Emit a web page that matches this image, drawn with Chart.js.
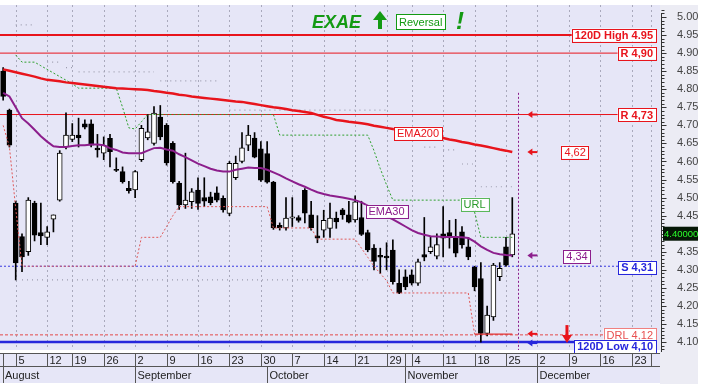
<!DOCTYPE html>
<html>
<head>
<meta charset="utf-8">
<script src="https://cdn.jsdelivr.net/npm/chart.js@4.4.0/dist/chart.umd.min.js"></script>
<style>
  body { margin: 0; background: #fff; }
</style>
</head>
<body>
<canvas id="chart" width="708" height="386"></canvas>
<script>
// trading days 2019 (Aug 1 .. Dec 31)
const days = [
  '08-01', '08-02', '08-05', '08-06', '08-07', '08-08', '08-09', '08-12', '08-13', '08-14', '08-16',
  '08-19', '08-20', '08-21', '08-22', '08-23', '08-26', '08-27', '08-28', '08-29', '08-30',
  '09-02', '09-03', '09-04', '09-05', '09-06', '09-09', '09-10', '09-11', '09-12', '09-13',
  '09-16', '09-17', '09-18', '09-19', '09-20', '09-23', '09-24', '09-25', '09-26', '09-27', '09-30',
  '10-01', '10-02', '10-03', '10-04', '10-07', '10-08', '10-09', '10-10', '10-11',
  '10-14', '10-15', '10-16', '10-17', '10-18', '10-21', '10-22', '10-23', '10-24', '10-25',
  '10-29', '10-30', '10-31',
  '11-01', '11-04', '11-05', '11-06', '11-07', '11-08', '11-11', '11-12', '11-13', '11-14', '11-15',
  '11-18', '11-19', '11-20', '11-21', '11-22', '11-25', '11-26', '11-27', '11-28', '11-29',
  '12-02', '12-03', '12-04', '12-05', '12-06', '12-09', '12-10', '12-11', '12-12', '12-13',
  '12-16', '12-17', '12-18', '12-19', '12-20', '12-23', '12-24', '12-27', '12-30', '12-31'
];
const monthNames = ['January', 'February', 'March', 'April', 'May', 'June', 'July',
  'August', 'September', 'October', 'November', 'December'];

const openP = [
  4.85, 4.742, 4.485, 4.392, 4.35, 4.485, 4.403, 4.39, 4.44, 4.493,
  4.641, 4.661, 4.673, 4.704, 4.704, 4.637, 4.623, 4.664, 4.578, 4.572,
  4.526, 4.521, 4.605, 4.665, 4.65, 4.723, 4.70, 4.65, 4.54, 4.48,
  4.489, 4.521, 4.50, 4.502, 4.513, 4.498, 4.456, 4.555, 4.60, 4.645,
  4.665, 4.635, 4.622, 4.543, 4.423, 4.416, 4.443, 4.445, 4.52, 4.452,
  4.394, 4.41, 4.415, 4.443, 4.466, 4.452, 4.438, 4.445, 4.403, 4.36,
  4.34, 4.338, 4.355, 4.263, 4.281, 4.286, 4.263, 4.342, 4.35, 4.338,
  4.40, 4.403, 4.392, 4.405, 4.364, 4.307, 4.276, 4.124, 4.17, 4.281,
  4.364, 4.341
];
const highP = [
  4.86, 4.745, 4.49, 4.40, 4.50, 4.49, 4.485, 4.42, 4.452, 4.63,
  4.735, 4.705, 4.72, 4.715, 4.715, 4.675, 4.668, 4.675, 4.61, 4.585,
  4.545, 4.575, 4.70, 4.73, 4.752, 4.755, 4.705, 4.655, 4.545, 4.623,
  4.525, 4.555, 4.555, 4.515, 4.53, 4.505, 4.60, 4.615, 4.68, 4.70,
  4.68, 4.655, 4.655, 4.545, 4.43, 4.50, 4.50, 4.45, 4.525, 4.49,
  4.45, 4.465, 4.485, 4.46, 4.47, 4.49, 4.505, 4.49, 4.41, 4.37,
  4.36, 4.375, 4.383, 4.30, 4.30, 4.30, 4.33, 4.445, 4.39, 4.40,
  4.475, 4.437, 4.44, 4.42, 4.39, 4.31, 4.32, 4.20, 4.318, 4.32,
  4.39, 4.50
];
const lowP = [
  4.77, 4.64, 4.272, 4.295, 4.34, 4.38, 4.37, 4.37, 4.405, 4.49,
  4.635, 4.655, 4.64, 4.69, 4.64, 4.612, 4.605, 4.585, 4.572, 4.54,
  4.512, 4.50, 4.60, 4.66, 4.645, 4.66, 4.59, 4.54, 4.467, 4.47,
  4.47, 4.467, 4.475, 4.48, 4.488, 4.46, 4.45, 4.55, 4.596, 4.63,
  4.61, 4.545, 4.54, 4.412, 4.41, 4.41, 4.42, 4.432, 4.43, 4.41,
  4.375, 4.39, 4.39, 4.415, 4.44, 4.43, 4.432, 4.395, 4.35, 4.30,
  4.29, 4.30, 4.26, 4.234, 4.245, 4.258, 4.257, 4.325, 4.345, 4.33,
  4.336, 4.36, 4.336, 4.36, 4.328, 4.242, 4.10, 4.117, 4.16, 4.27,
  4.31, 4.336
];
const closeP = [
  4.78, 4.645, 4.319, 4.336, 4.493, 4.396, 4.394, 4.405, 4.452, 4.623,
  4.673, 4.673, 4.665, 4.695, 4.645, 4.632, 4.645, 4.627, 4.575, 4.544,
  4.519, 4.572, 4.692, 4.682, 4.734, 4.668, 4.596, 4.544, 4.48, 4.493,
  4.516, 4.484, 4.49, 4.486, 4.493, 4.466, 4.595, 4.595, 4.638, 4.673,
  4.612, 4.548, 4.543, 4.416, 4.416, 4.443, 4.447, 4.437, 4.457, 4.416,
  4.388, 4.437, 4.443, 4.433, 4.452, 4.432, 4.488, 4.398, 4.355, 4.323,
  4.335, 4.333, 4.267, 4.236, 4.253, 4.263, 4.322, 4.335, 4.364, 4.37,
  4.388, 4.392, 4.346, 4.369, 4.336, 4.253, 4.124, 4.175, 4.313, 4.304,
  4.313, 4.40
];

const ema200 = [
  4.855, 4.851, 4.847, 4.843, 4.839, 4.835, 4.83, 4.826, 4.824, 4.822,
  4.819, 4.817, 4.815, 4.813, 4.811, 4.809, 4.807, 4.805, 4.803, 4.802,
  4.801, 4.8, 4.799, 4.798, 4.795, 4.793, 4.79, 4.788, 4.785, 4.783,
  4.78, 4.778, 4.776, 4.774, 4.772, 4.77, 4.768, 4.766, 4.765, 4.762,
  4.759, 4.756, 4.753, 4.75, 4.748, 4.745, 4.742, 4.74, 4.737, 4.734,
  4.729, 4.724, 4.72, 4.715, 4.713, 4.71, 4.708, 4.706, 4.703, 4.699,
  4.696, 4.693, 4.69, 4.687, 4.684, 4.681, 4.678, 4.675, 4.671, 4.668,
  4.665, 4.661, 4.658, 4.654, 4.651, 4.647, 4.644, 4.641, 4.637, 4.633,
  4.63, 4.626
];
const ema30 = [
  4.79, 4.78, 4.75, 4.72, 4.705, 4.688, 4.67, 4.655, 4.642, 4.64,
  4.64, 4.643, 4.645, 4.645, 4.647, 4.647, 4.645, 4.637, 4.632, 4.625,
  4.623, 4.623, 4.623, 4.63, 4.637, 4.638, 4.633, 4.63, 4.62, 4.612,
  4.603, 4.594, 4.587, 4.58, 4.575, 4.572, 4.572, 4.577, 4.58, 4.583,
  4.582, 4.582, 4.577, 4.57, 4.562, 4.553, 4.545, 4.537, 4.53, 4.522,
  4.515, 4.51, 4.506, 4.503, 4.5, 4.497, 4.493, 4.487, 4.478, 4.468,
  4.458, 4.448, 4.44, 4.43, 4.42, 4.41, 4.402, 4.397, 4.393, 4.392,
  4.391, 4.391, 4.391, 4.39, 4.388, 4.378, 4.365, 4.355, 4.347, 4.343,
  4.341, 4.34
];
// upper reversal line (URL)
const urlLine = [
  null, null, 4.895, 4.875, 4.875, 4.875, 4.865, 4.855, 4.845, 4.835,
  4.825, 4.815, 4.803, 4.803, 4.803, 4.803, 4.803, 4.803, 4.803, 4.75,
  4.693, 4.69, 4.71, 4.73, 4.73, 4.73, 4.73, 4.73, 4.73, 4.73,
  4.73, 4.73, 4.73, 4.73, 4.73, 4.73, 4.73, 4.73, 4.73, 4.73,
  4.73, 4.73, 4.73, 4.73, 4.673, 4.673, 4.673, 4.673, 4.673, 4.673,
  4.673, 4.673, 4.673, 4.673, 4.673, 4.673, 4.673, 4.673, 4.673, 4.63,
  4.58, 4.535, 4.493, 4.493, 4.493, 4.493, 4.493, 4.493, 4.493, 4.493,
  4.493, 4.493, 4.493, 4.493, 4.493, 4.46, 4.39, 4.39, 4.39, 4.39,
  4.39, 4.39
];
// lower reversal line
const lowerRev = [
  4.70, 4.64, 4.47, 4.31, 4.31, 4.31, 4.31, 4.31, 4.31, 4.31,
  4.31, 4.31, 4.31, 4.31, 4.31, 4.31, 4.31, 4.31, 4.31, 4.31,
  4.31, 4.31, 4.39, 4.39, 4.39, 4.39, 4.42, 4.45, 4.475, 4.475,
  4.475, 4.475, 4.475, 4.475, 4.475, 4.475, 4.475, 4.475, 4.475, 4.475,
  4.475, 4.475, 4.475, 4.416, 4.416, 4.416, 4.416, 4.416, 4.416, 4.416,
  4.385, 4.385, 4.385, 4.385, 4.385, 4.385, 4.385, 4.36, 4.335, 4.31,
  4.29, 4.27, 4.236, 4.236, 4.236, 4.236, 4.236, 4.236, 4.236, 4.236,
  4.236, 4.236, 4.236, 4.236, 4.236, 4.122
];
const lowerRevNow = [
  null, null, null, null, null, null, null, null, null, null,
  null, null, null, null, null, null, null, null, null, null,
  null, null, null, null, null, null, null, null, null, null,
  null, null, null, null, null, null, null, null, null, null,
  null, null, null, null, null, null, null, null, null, null,
  null, null, null, null, null, null, null, null, null, null,
  null, null, null, null, null, null, null, null, null, null,
  null, null, null, null, null, 4.122, 4.122, 4.122, 4.122, 4.122,
  4.122, 4.122
];
const upperDots = [
  null, null, 4.978, 4.978, 4.978, 4.978, 4.928, 4.875, 4.875, 4.875,
  4.86, 4.86, 4.848, 4.848, 4.848, 4.848, 4.848, 4.848, 4.848, 4.848,
  4.848, 4.848, 4.848, 4.848, 4.848, 4.823, 4.823, 4.823, 4.823, 4.823,
  4.823, 4.823, 4.823, 4.823, 4.823, null, 4.742, 4.742, 4.742, 4.742,
  4.742, 4.742, 4.742, 4.742, 4.742, 4.742, 4.742, 4.742, 4.742, 4.742,
  4.742, 4.742, 4.742, 4.742, 4.742, 4.742, 4.742, 4.742, 4.742, 4.742,
  4.742, 4.742, null, null, null, null, null, 4.64, 4.64, 4.64,
  4.632, 4.632, 4.632, 4.593, 4.593, 4.593, 4.53, 4.53, 4.53, 4.53,
  4.53, 4.53
];
const lowerDots = [
  null, null, null, 4.272, 4.272, 4.272, 4.272, 4.272, 4.272, 4.272,
  4.272, 4.272, 4.272, 4.272, 4.272, 4.272, 4.272, 4.272, 4.272, 4.272,
  4.272, 4.272, 4.272, 4.272, 4.272, 4.272, 4.272, 4.272, 4.272, 4.272,
  4.272, 4.272, 4.272, 4.272, 4.272, 4.272, 4.272, 4.272, 4.272, 4.272,
  4.272, 4.272, 4.272, 4.272, 4.272, 4.272, 4.272, 4.272, 4.272, 4.272,
  4.272, 4.272, 4.272, 4.272, 4.272, 4.272, 4.272, 4.272, 4.272
];

const levelValues = [4.95, 4.90, 4.73, 4.31, 4.12, 4.10];
const levelLabels = ['120D High 4.95', 'R 4,90', 'R 4,73', 'S 4,31', 'DRL 4,12', '120D Low 4,10'];
const endLabels = ['4,62', '4,34'];
const yTicks = [4.10, 4.15, 4.20, 4.25, 4.30, 4.35, 4.40, 4.45, 4.50, 4.55,
  4.60, 4.65, 4.70, 4.75, 4.80, 4.85, 4.90, 4.95, 5.00];
const lastPrice = 4.40;

const RED = '#e8141c';
const BLUE = '#2626dc';
const PURPLE = '#8c1e8c';
const GREEN = '#139a13';
const FONT = '"Liberation Sans", Arial, sans-serif';

const levelStyles = [
  { line: RED, width: 2, dash: [], text: RED, border: RED, bold: true, dy: 0 },
  { line: RED, width: 1, dash: [], text: RED, border: RED, bold: true, dy: 0 },
  { line: RED, width: 1, dash: [], text: RED, border: RED, bold: true, dy: 0 },
  { line: '#3b3be0', width: 1, dash: [2, 2], text: BLUE, border: BLUE, bold: true, dy: 1 },
  { line: '#e34a4a', width: 1, dash: [3, 2], text: '#e85050', border: '#f08080', bold: false, dy: 0 },
  { line: BLUE, width: 2.5, dash: [], text: BLUE, border: BLUE, bold: true, dy: 4 }
];

const dates = days.map(d => new Date(2019, Number(d.slice(0, 2)) - 1, Number(d.slice(3))));
const weekStart = dates.map((d, i) => i > 0 && d.getDay() < dates[i - 1].getDay());
const monthStart = dates.map((d, i) => i > 0 && d.getMonth() !== dates[i - 1].getMonth());

function drawTag(ctx, text, x, yc, st, alignRight) {
  ctx.font = (st.bold ? 'bold ' : '') + '11px ' + FONT;
  const w = ctx.measureText(text).width + 6;
  const h = 13;
  const left = alignRight ? x - w : x - w / 2;
  ctx.fillStyle = '#ffffff';
  ctx.fillRect(left, yc - h / 2, w, h);
  ctx.strokeStyle = st.border;
  ctx.lineWidth = 1;
  ctx.setLineDash([]);
  ctx.strokeRect(Math.round(left) + 0.5, Math.round(yc - h / 2) + 0.5, Math.round(w), h);
  ctx.fillStyle = st.text;
  ctx.textAlign = 'left';
  ctx.textBaseline = 'middle';
  ctx.fillText(text, left + 3, yc + 1);
}

function leftArrow(ctx, x, y, color) {
  ctx.strokeStyle = color;
  ctx.fillStyle = color;
  ctx.lineWidth = 2;
  ctx.setLineDash([]);
  ctx.beginPath();
  ctx.moveTo(x + 3, y);
  ctx.lineTo(x + 10, y);
  ctx.stroke();
  ctx.beginPath();
  ctx.moveTo(x, y);
  ctx.lineTo(x + 5, y - 3.5);
  ctx.lineTo(x + 5, y + 3.5);
  ctx.closePath();
  ctx.fill();
}

const decor = {
  id: 'decor',
  beforeDraw(chart) {
    const { ctx, chartArea: a, scales: { x, y } } = chart;
    ctx.save();
    ctx.fillStyle = '#ffffff';
    ctx.fillRect(0, 0, chart.width, chart.height);
    ctx.fillStyle = '#ececf4';
    ctx.fillRect(a.right, a.top, 38, chart.height - a.top - 2);
    ctx.fillStyle = '#e6e6f7';
    ctx.fillRect(a.left, a.top, a.right - a.left, a.bottom - a.top);

    // weekly dotted grid
    ctx.strokeStyle = '#a9a9bc';
    ctx.lineWidth = 1;
    ctx.setLineDash([2, 3]);
    weekStart.forEach((ws, i) => {
      if (!ws) return;
      const px = Math.round(x.getPixelForValue(i)) + 0.5;
      ctx.beginPath();
      ctx.moveTo(px, a.top);
      ctx.lineTo(px, a.bottom);
      ctx.stroke();
    });

    // level lines
    levelValues.forEach((v, k) => {
      const st = levelStyles[k];
      const py = y.getPixelForValue(v);
      ctx.strokeStyle = st.line;
      ctx.lineWidth = st.width;
      ctx.setLineDash(st.dash);
      ctx.beginPath();
      ctx.moveTo(a.left, py);
      ctx.lineTo(a.right - 4, py);
      ctx.stroke();
    });

    // title
    ctx.setLineDash([]);
    ctx.fillStyle = GREEN;
    ctx.font = 'italic bold 18px ' + FONT;
    ctx.textAlign = 'left';
    ctx.textBaseline = 'alphabetic';
    ctx.fillText('EXAE', 312, 28);
    ctx.beginPath();
    ctx.moveTo(380, 11);
    ctx.lineTo(387, 20);
    ctx.lineTo(373, 20);
    ctx.closePath();
    ctx.fill();
    ctx.fillRect(378, 19, 4, 10);
    ctx.font = '11px ' + FONT;
    const rw = Math.ceil(ctx.measureText('Reversal').width) + 5;
    ctx.fillStyle = '#ffffff';
    ctx.fillRect(396, 14, rw, 15);
    ctx.strokeStyle = GREEN;
    ctx.lineWidth = 1;
    ctx.strokeRect(396.5, 14.5, rw, 15);
    ctx.fillStyle = GREEN;
    ctx.fillText('Reversal', 399, 26);
    ctx.font = 'italic bold 24px ' + FONT;
    ctx.fillText('!', 456, 29);
    ctx.restore();
  },
  afterDatasetsDraw(chart) {
    const { ctx, chartArea: a, scales: { x, y } } = chart;
    const n = openP.length;
    ctx.save();

    // vertical marker after last bar
    const vx = Math.round(x.getPixelForValue(n - 0.1)) + 0.5;
    ctx.strokeStyle = PURPLE;
    ctx.lineWidth = 1;
    ctx.setLineDash([2, 2]);
    ctx.beginPath();
    ctx.moveTo(vx, y.getPixelForValue(4.79));
    ctx.lineTo(vx, a.bottom);
    ctx.stroke();

    // level tags
    levelValues.forEach((v, k) => {
      drawTag(ctx, levelLabels[k], a.right - 4, y.getPixelForValue(v) + levelStyles[k].dy, levelStyles[k], true);
    });

    // line tags
    drawTag(ctx, 'EMA200', x.getPixelForValue(66), y.getPixelForValue(ema200[66]), { text: RED, border: RED }, false);
    drawTag(ctx, 'EMA30', x.getPixelForValue(61), y.getPixelForValue(ema30[61]) - 5, { text: PURPLE, border: PURPLE }, false);
    drawTag(ctx, 'URL', x.getPixelForValue(75), y.getPixelForValue(urlLine[74]) + 4, { text: '#2a9a2a', border: '#5ab85a' }, false);
    drawTag(ctx, endLabels[0], x.getPixelForValue(91), y.getPixelForValue(ema200[n - 1]), { text: RED, border: RED }, false);
    drawTag(ctx, endLabels[1], x.getPixelForValue(91.3), y.getPixelForValue(ema30[n - 1]) + 1, { text: PURPLE, border: PURPLE }, false);

    // arrows
    const ax = x.getPixelForValue(83.4);
    leftArrow(ctx, ax, y.getPixelForValue(levelValues[2]), RED);
    leftArrow(ctx, ax, y.getPixelForValue(ema200[n - 1]), RED);
    leftArrow(ctx, ax, y.getPixelForValue(ema30[n - 1]), PURPLE);
    leftArrow(ctx, ax, y.getPixelForValue(levelValues[4]) - 1, RED);
    leftArrow(ctx, ax, y.getPixelForValue(levelValues[5]) + 1, BLUE);

    // red down arrow
    const dx = x.getPixelForValue(89.7);
    const tip = y.getPixelForValue(levelValues[5]) + 1;
    ctx.fillStyle = RED;
    ctx.fillRect(dx - 1.5, tip - 18, 3, 11);
    ctx.beginPath();
    ctx.moveTo(dx - 5, tip - 8);
    ctx.lineTo(dx + 5, tip - 8);
    ctx.lineTo(dx, tip);
    ctx.closePath();
    ctx.fill();

    // price ruler
    const rx = a.right + 1.5;
    ctx.strokeStyle = '#333';
    ctx.lineWidth = 1;
    ctx.setLineDash([]);
    ctx.beginPath();
    ctx.moveTo(rx, a.top + 8);
    ctx.lineTo(rx, a.bottom + 2);
    for (let k = 408; k <= 502; k++) {
      const py = Math.round(y.getPixelForValue(k / 100)) + 0.5;
      const len = k % 5 === 0 ? 5 : 3;
      ctx.moveTo(rx, py);
      ctx.lineTo(rx + len, py);
    }
    ctx.stroke();

    // last price box
    const py = y.getPixelForValue(lastPrice);
    ctx.fillStyle = '#061806';
    ctx.fillRect(a.right + 3, py - 7, 35, 14);
    ctx.fillStyle = '#2bff2b';
    ctx.font = '9.5px ' + FONT;
    ctx.textAlign = 'left';
    ctx.textBaseline = 'middle';
    ctx.fillText(lastPrice.toFixed(5), a.right + 4, py + 1);

    // date strip
    const top = a.bottom + 3;
    const mid = top + 13;
    const bot = top + 30;
    ctx.fillStyle = '#e6e6f7';
    ctx.fillRect(a.left, top, a.right - a.left, bot - top);
    ctx.strokeStyle = '#555';
    ctx.beginPath();
    ctx.moveTo(a.left, top + 0.5);
    ctx.lineTo(a.right, top + 0.5);
    ctx.moveTo(a.left, mid + 0.5);
    ctx.lineTo(a.right, mid + 0.5);
    ctx.moveTo(3.5, top);
    ctx.lineTo(3.5, bot);
    ctx.stroke();
    ctx.fillStyle = '#222';
    ctx.font = '11px ' + FONT;
    ctx.textBaseline = 'alphabetic';
    let prevWeekPx = -100;
    dates.forEach((d, i) => {
      const px = Math.round(x.getPixelForValue(i)) + 0.5;
      if (weekStart[i]) {
        ctx.beginPath();
        ctx.moveTo(px, top);
        ctx.lineTo(px, mid);
        ctx.stroke();
        if (px + 12 < a.right) ctx.fillText(String(d.getDate()), px + 2, mid - 2);
        prevWeekPx = px;
      }
      if (monthStart[i]) {
        ctx.beginPath();
        ctx.moveTo(px, px - prevWeekPx > 16 ? top : mid);
        ctx.lineTo(px, bot);
        ctx.stroke();
        ctx.fillText(monthNames[d.getMonth()], px + 2, bot - 4);
      }
    });
    ctx.fillText(monthNames[dates[0].getMonth()], 5, bot - 4);
    ctx.restore();
  }
};

const wickData = lowP.map((l, i) => [l, highP[i]]);
const bodyData = openP.map((o, i) => [o, closeP[i]]);
const bodyColors = openP.map((o, i) => (closeP[i] >= o ? '#ffffff' : '#000000'));

new Chart(document.getElementById('chart'), {
  type: 'bar',
  data: {
    labels: days,
    datasets: [
      { type: 'line', data: ema200, borderColor: RED, borderWidth: 2.5, pointRadius: 0, order: 1 },
      { type: 'line', data: ema30, borderColor: PURPLE, borderWidth: 2, pointRadius: 0, order: 2 },
      { type: 'line', data: urlLine, borderColor: '#2ea02e', borderWidth: 1, borderDash: [2, 2], pointRadius: 0, order: 3 },
      { type: 'line', data: lowerRev, borderColor: '#e05a5a', borderWidth: 1, borderDash: [2, 2], pointRadius: 0, order: 3 },
      { type: 'line', data: lowerRevNow, borderColor: '#e03030', borderWidth: 1.2, pointRadius: 0, order: 3 },
      {
        type: 'line', data: upperDots, borderWidth: 1.2, borderDash: [1, 4], pointRadius: 0, order: 3,
        borderColor: '#9c9cae',
        segment: { borderColor: c => (c.p0.parsed.y === c.p1.parsed.y ? '#9c9cae' : 'rgba(0,0,0,0)') }
      },
      { type: 'line', data: lowerDots, borderColor: '#9c9cae', borderWidth: 1.2, borderDash: [1, 4], pointRadius: 0, order: 3 },
      { data: wickData, backgroundColor: '#000', barThickness: 1, grouped: false, order: 6 },
      {
        data: bodyData, backgroundColor: bodyColors, borderColor: '#000', borderWidth: 1,
        borderSkipped: false, barThickness: 5, grouped: false, order: 5
      }
    ]
  },
  options: {
    responsive: false,
    animation: false,
    events: [],
    layout: { padding: { top: 5, left: 0, right: 8, bottom: 36 } },
    plugins: { legend: { display: false }, tooltip: { enabled: false } },
    scales: {
      x: { type: 'category', offset: true, display: false },
      y: {
        position: 'right',
        min: 4.0781,
        max: 5.0332,
        afterBuildTicks: s => { s.ticks = yTicks.map(v => ({ value: v })); },
        afterFit: s => { s.width = 40; s.paddingTop = 0; s.paddingBottom = 0; },
        grid: { display: false, drawTicks: false },
        border: { display: false },
        ticks: {
          padding: 17,
          color: '#444',
          font: { family: FONT, size: 11 },
          callback: v => Number(v).toFixed(2)
        }
      }
    }
  },
  plugins: [decor]
});
</script>
</body>
</html>
